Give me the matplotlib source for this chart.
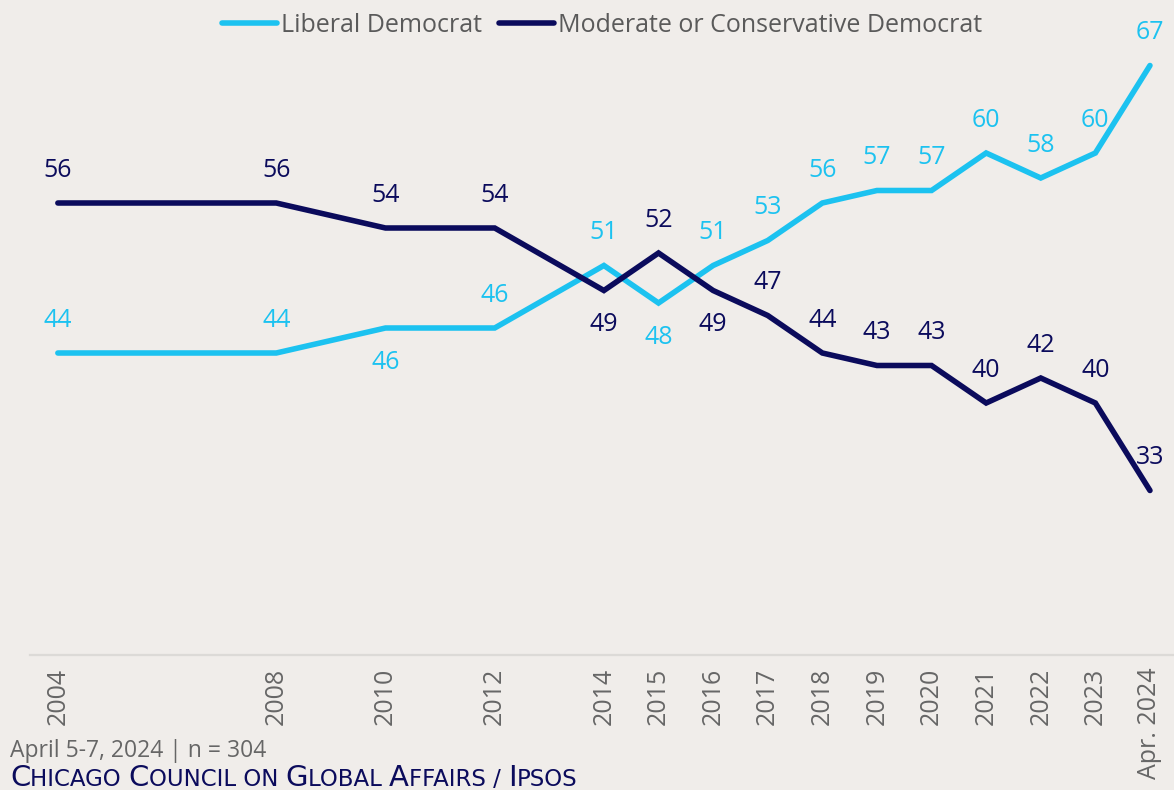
import matplotlib
matplotlib.use("Agg")
import matplotlib.pyplot as plt

# Survey waves and shares (%)
years = [2004, 2008, 2010, 2012, 2014, 2015, 2016, 2017, 2018, 2019, 2020, 2021, 2022, 2023, 2024]
tick_labels = ["2004", "2008", "2010", "2012", "2014", "2015", "2016", "2017", "2018",
               "2019", "2020", "2021", "2022", "2023", "Apr. 2024"]
liberal = [44, 44, 46, 46, 51, 48, 51, 53, 56, 57, 57, 60, 58, 60, 67]
moderate = [56, 56, 54, 54, 49, 52, 49, 47, 44, 43, 43, 40, 42, 40, 33]

# Which value labels sit below their point
liberal_below = {2010, 2015}
moderate_below = {2014, 2016}

BG = "#f0edea"
LIGHT = "#1cc2f0"
DARK = "#0b0b5c"
GRAY = "#666666"
FONT = "Open Sans"

plt.rcParams["font.family"] = [FONT, "DejaVu Sans"]

W, H = 1174, 790
fig = plt.figure(figsize=(W / 100, H / 100), dpi=100, facecolor=BG)
ax = fig.add_axes([30 / W, 135 / H, 1 - 30 / W, 1 - 135 / H])
ax.set_facecolor(BG)

ax.plot(years, liberal, color=LIGHT, lw=4.0, solid_capstyle="round",
        solid_joinstyle="miter", label="Liberal Democrat", zorder=3)
ax.plot(years, moderate, color=DARK, lw=4.0, solid_capstyle="round",
        solid_joinstyle="miter", label="Moderate or Conservative Democrat", zorder=4)

for series, color, below in ((liberal, LIGHT, liberal_below), (moderate, DARK, moderate_below)):
    for x, v in zip(years, series):
        dy = -24.5 if x in below else 23.5
        ax.annotate(f"{v}", (x, v), xytext=(0, dy), textcoords="offset points",
                    ha="center", va="center", color=color, fontsize=18, zorder=5)

ax.set_xlim(2003.49, 2024.44)
ax.set_ylim(19.84, 72.24)
ax.set_xticks(years)
ax.set_xticklabels(tick_labels, rotation=90, color=GRAY, fontsize=18, va="top")
ax.tick_params(axis="x", length=0, pad=9)
ax.set_yticks([])
for side in ("top", "left", "right"):
    ax.spines[side].set_visible(False)
ax.spines["bottom"].set_color("#dcdad7")
ax.spines["bottom"].set_linewidth(1.6)

fig.legend(loc="upper center", bbox_to_anchor=(602 / W, 1.012), ncol=2, frameon=False,
           fontsize=18, handlelength=2.2, handletextpad=0.15, columnspacing=0.7,
           labelcolor="#5a5a5a")

fig.text(10 / W, 1 - 757 / H, "April 5-7, 2024 | n = 304", color=GRAY, fontsize=16.5,
         va="baseline", ha="left")

# Small-caps source line built from alternating large and small pieces
pieces = [("C", 21), ("HICAGO ", 16.5), ("C", 21), ("OUNCIL ON ", 16.5), ("G", 21),
          ("LOBAL ", 16.5), ("A", 21), ("FFAIRS / ", 16.5), ("I", 21), ("PSOS", 16.5)]
fig.canvas.draw()
renderer = fig.canvas.get_renderer()
x_px = 10
base_y = 1 - 786 / H
for txt, size in pieces:
    t = fig.text(x_px / W, base_y, txt, color=DARK, fontsize=size, va="baseline", ha="left",
                 family=["DejaVu Sans"])
    x_px += t.get_window_extent(renderer=renderer).width

fig.savefig("out.png", dpi=100, facecolor=BG)
